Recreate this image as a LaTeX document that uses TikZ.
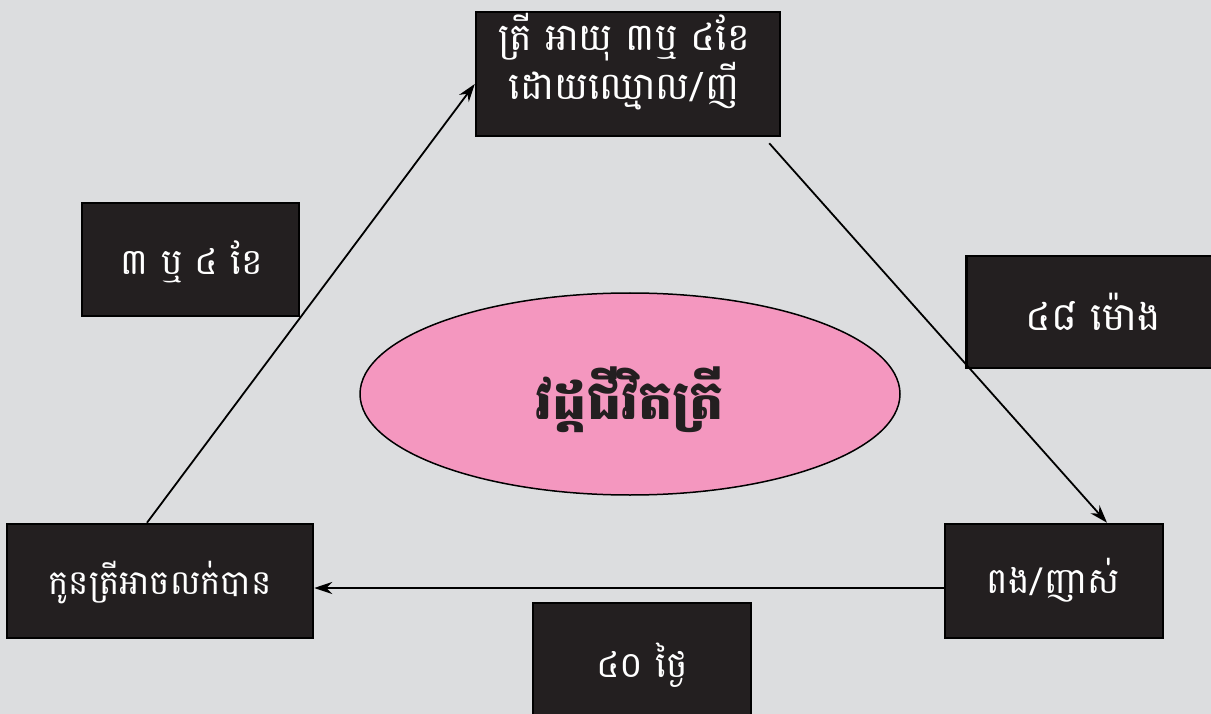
\documentclass[tikz,border=0pt]{standalone}
\usepackage{fontspec}
\newfontfamily\khmer[Script=Khmer]{Battambang}
\usetikzlibrary{arrows.meta,shapes.geometric}
\definecolor{bg}{HTML}{DCDDDF}
\definecolor{boxfill}{HTML}{231F20}
\definecolor{pinkfill}{HTML}{F497BF}
\tikzset{
  darkbox/.style={draw=black, line width=2.5pt, fill=boxfill, rectangle, inner sep=0pt},
  wtext/.style={text=white, align=center, inner sep=0pt},
  conn/.style={line width=1.8pt, -{Stealth[length=18pt,width=12pt]}},
}
\begin{document}
\begin{tikzpicture}[x=1pt,y=-1pt]
\path[fill=bg] (0,0) rectangle (1211,714);
\useasboundingbox (0,0) rectangle (1211,714);
% boxes
\node[darkbox, minimum width=304pt, minimum height=124pt] (top) at (628,74) {};
\node[darkbox, minimum width=306pt, minimum height=114pt] (lb) at (160,581) {};
\node[darkbox, minimum width=218pt, minimum height=114pt] (rb) at (1054,581) {};
\node[darkbox, minimum width=218pt, minimum height=126pt] (bl) at (642,666) {};
\node[darkbox, minimum width=217pt, minimum height=113pt] (ll) at (190.5,259.5) {};
\node[darkbox, minimum width=263pt, minimum height=112pt] (rl) at (1098,312) {};
% ellipse
\node[ellipse, draw=black, line width=1.5pt, fill=pinkfill, minimum width=540pt, minimum height=202pt, inner sep=0pt] (cyc) at (630,394) {};
% texts
\node[wtext, font=\khmer\fontsize{38}{40}\selectfont] (toptxt) at (624,62) {ត្រី អាយុ ៣ឬ ៤ខែ\\ដោយឈ្មោល/ញី};
\node[wtext, font=\khmer\fontsize{34}{40}\selectfont] (lbtxt) at (160,583) {កូនត្រីអាចលក់បាន};
\node[wtext, font=\khmer\fontsize{36}{40}\selectfont] (rbtxt) at (1053,580) {ពង/ញាស់};
\node[wtext, font=\khmer\fontsize{36}{40}\selectfont] (bltxt) at (642,665) {៤០ ថ្ងៃ};
\node[wtext, font=\khmer\fontsize{36}{40}\selectfont] (lltxt) at (192,262) {៣ ឬ ៤ ខែ};
\node[wtext, font=\khmer\fontsize{39}{40}\selectfont] (rltxt) at (1093,312) {៤៨ ម៉ោង};
\node[font=\khmer\bfseries\fontsize{54}{58}\selectfont, text=boxfill, inner sep=0pt] (cyctxt) at (630,400) {វដ្តជីវិតត្រី};
% connectors
\draw[conn] ([xshift=-13pt]lb.north) -- ([yshift=-10pt]top.west);
\draw[conn] ([xshift=-12pt,yshift=-6pt]top.south east) -- ([xshift=53pt]rb.north);
\draw[conn] ([yshift=-7pt]rb.west) -- ([yshift=-7pt]lb.east);
\end{tikzpicture}
\end{document}
